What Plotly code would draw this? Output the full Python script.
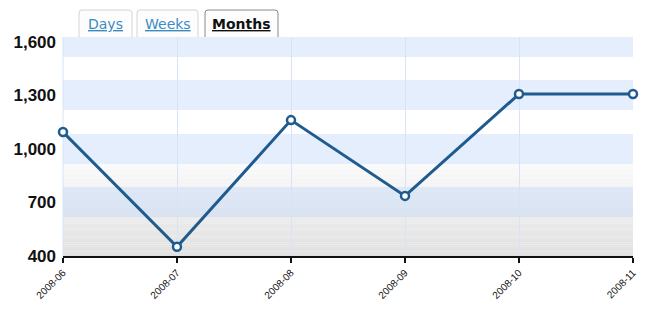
import plotly.graph_objects as go

months = ["2008-06", "2008-07", "2008-08", "2008-09", "2008-10", "2008-11"]
values = [1095, 452, 1162, 737, 1308, 1308]
y_ticks = [400, 700, 1000, 1300, 1600]
tabs = ["Days", "Weeks", "Months"]

L, R, T, B = 63, 633, 37, 256
W, H = 655, 315
YMIN, YMAX = 400, 1628

def px_to_paper_x(px):
    return (px - L) / (R - L)

def px_to_paper_y(py):
    return (B - py) / (B - T)

shapes = []
# gray gradient in lower part
g0, g1 = 916, 400
n = 40
c_top, c_bot = 250, 224
for i in range(n):
    ya = g0 - (g0 - g1) * i / n
    yb = g0 - (g0 - g1) * (i + 1) / n
    c = int(round(c_top + (c_bot - c_top) * (i + 0.5) / n))
    shapes.append(dict(type="rect", xref="paper", yref="y", x0=0, x1=1, y0=yb, y1=ya,
                       fillcolor=f"rgb({c},{c},{c})", line_width=0, layer="below"))
# blue bands
for (a, b) in [(1516, 1628), (1219, 1387), (916, 1084), (619, 787)]:
    shapes.append(dict(type="rect", xref="paper", yref="y", x0=0, x1=1, y0=a, y1=b,
                       fillcolor="rgba(190,215,250,0.42)", line_width=0, layer="below"))

# tabs
tab_boxes = [(79, 132), (137, 198), (205, 278)]
annotations = []
for name, (x0, x1) in zip(tabs, tab_boxes):
    active = name == "Months"
    y0, y1 = 37, 10
    r = 3
    path = (f"M {px_to_paper_x(x0)} {px_to_paper_y(y0)} "
            f"L {px_to_paper_x(x0)} {px_to_paper_y(y1 + r)} "
            f"Q {px_to_paper_x(x0)} {px_to_paper_y(y1)} {px_to_paper_x(x0 + r)} {px_to_paper_y(y1)} "
            f"L {px_to_paper_x(x1 - r)} {px_to_paper_y(y1)} "
            f"Q {px_to_paper_x(x1)} {px_to_paper_y(y1)} {px_to_paper_x(x1)} {px_to_paper_y(y1 + r)} "
            f"L {px_to_paper_x(x1)} {px_to_paper_y(y0)}")
    shapes.append(dict(type="path", xref="paper", yref="paper", path=path,
                       fillcolor="#fdfdfd",
                       line=dict(color="#8a8a8a" if active else "#d4d4d4", width=1)))
    txt = f"<u><b>{name}</b></u>" if active else f"<u>{name}</u>"
    annotations.append(dict(xref="paper", yref="paper",
                            x=px_to_paper_x((x0 + x1) / 2), y=px_to_paper_y(24.5),
                            text=txt, showarrow=False, xanchor="center", yanchor="middle",
                            font=dict(family="DejaVu Sans", size=14,
                                      color="#111111" if active else "#3a8cc4")))

fig = go.Figure()
fig.add_trace(go.Scatter(
    x=months, y=values, mode="lines+markers",
    line=dict(color="#1f5b8e", width=3),
    marker=dict(symbol="circle", size=8, color="white",
                line=dict(color="#1f5b8e", width=2.5)),
    cliponaxis=False, hoverinfo="x+y"))

fig.update_layout(
    width=W, height=H,
    margin=dict(l=L, r=W - R, t=T, b=H - B, pad=0),
    paper_bgcolor="white", plot_bgcolor="white",
    showlegend=False,
    shapes=shapes, annotations=annotations,
    xaxis=dict(type="category", range=[0, 5], showgrid=True, gridcolor="#d8e4f5",
               gridwidth=1, zeroline=False, showline=True, linecolor="#111111",
               linewidth=2, ticks="outside", ticklen=5, tickwidth=2, tickcolor="#111111",
               tickangle=-45, tickfont=dict(family="Liberation Sans", size=10, color="#111111"),
               fixedrange=True),
    yaxis=dict(range=[YMIN, YMAX], tickvals=y_ticks, tickformat=",d", showgrid=False,
               zeroline=False, showline=False, ticks="", ticklabelstandoff=6,
               tickfont=dict(family="Liberation Sans", size=17, color="#111111", weight="bold"),
               fixedrange=True),
)
fig.add_shape(type="line", xref="paper", yref="paper", x0=0, x1=0, y0=0, y1=1,
              line=dict(color="#d8e4f5", width=1), layer="below")
fig.write_html("out.html")
